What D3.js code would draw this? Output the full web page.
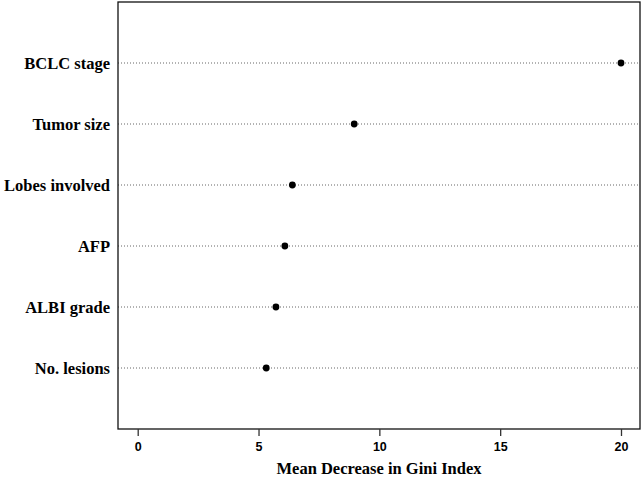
<!DOCTYPE html>
<html>
<head>
<meta charset="utf-8">
<script src="https://cdn.jsdelivr.net/npm/d3@7"></script>
<style>
  body { margin: 0; background: #fff; }
  svg { display: block; }
</style>
</head>
<body>
<svg width="642" height="478"></svg>
<script>
// Variable importance (top to bottom)
const variables = ["BCLC stage", "Tumor size", "Lobes involved", "AFP", "ALBI grade", "No. lesions"];
const giniValues = [20.0, 8.96, 6.40, 6.09, 5.72, 5.32];
const xTicks = [0, 5, 10, 15, 20];

const svg = d3.select("svg");

const box = { left: 118, right: 640, top: 2, bottom: 429 };

// x: 0..20 sits inside the box with R-style padding
const x = d3.scaleLinear().domain([0, 20]).range([137.7, 621]);
// y: rows 1..6 from the bottom, box spans 0..7
const y = d3.scaleLinear().domain([0, variables.length + 1]).range([box.bottom, box.top]);
const rowPos = (i) => y(variables.length - i);

// dotted guide lines
svg.append("g")
    .selectAll("line")
    .data(variables)
    .join("line")
    .attr("x1", box.left)
    .attr("x2", box.right)
    .attr("y1", (d, i) => rowPos(i))
    .attr("y2", (d, i) => rowPos(i))
    .attr("stroke", "#666")
    .attr("stroke-width", 1)
    .attr("stroke-dasharray", "1,2");

// points
svg.append("g")
    .selectAll("circle")
    .data(giniValues)
    .join("circle")
    .attr("cx", d => x(d))
    .attr("cy", (d, i) => rowPos(i))
    .attr("r", 3.4)
    .attr("fill", "#000");

// labels
svg.append("g")
    .selectAll("text")
    .data(variables)
    .join("text")
    .attr("x", 110)
    .attr("y", (d, i) => rowPos(i))
    .attr("dy", "0.35em")
    .attr("text-anchor", "end")
    .style("font-family", "'Liberation Serif', 'Times New Roman', serif")
    .style("font-weight", "bold")
    .style("font-size", "16.5px")
    .text(d => d);

// plot box
svg.append("rect")
    .attr("x", box.left)
    .attr("y", box.top)
    .attr("width", box.right - box.left)
    .attr("height", box.bottom - box.top)
    .attr("fill", "none")
    .attr("stroke", "#111")
    .attr("stroke-width", 1.3);

// x axis
const xAxis = svg.append("g")
    .attr("transform", `translate(0,${box.bottom})`)
    .call(d3.axisBottom(x).tickValues(xTicks).tickSize(7).tickPadding(6).tickFormat(d3.format("d")));

xAxis.select(".domain").remove();
xAxis.selectAll(".tick line").attr("stroke", "#333").attr("stroke-width", 1.3);
xAxis.selectAll(".tick text")
    .style("font-family", "'Liberation Sans', Arial, sans-serif")
    .style("font-weight", "bold")
    .style("font-size", "12.5px")
    .attr("fill", "#000");

// axis title
svg.append("text")
    .attr("x", (box.left + box.right) / 2)
    .attr("y", 468)
    .attr("dy", "0.35em")
    .attr("text-anchor", "middle")
    .style("font-family", "'Liberation Serif', 'Times New Roman', serif")
    .style("font-weight", "bold")
    .style("font-size", "16.5px")
    .text("Mean Decrease in Gini Index");
</script>
</body>
</html>
